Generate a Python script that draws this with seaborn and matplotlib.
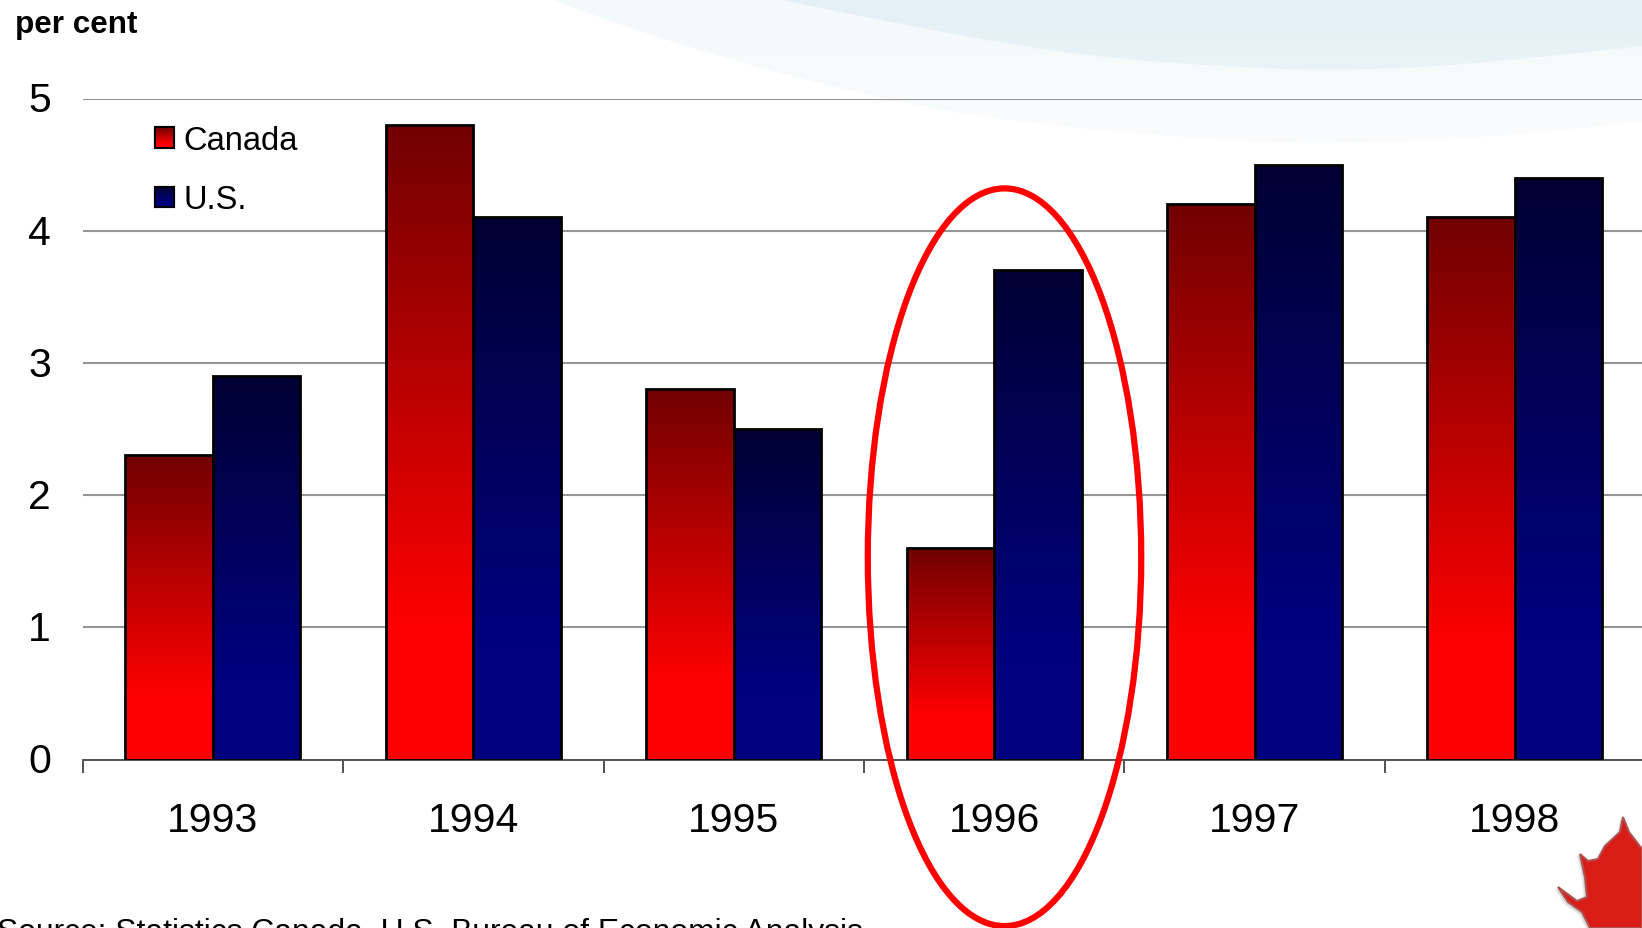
import matplotlib
matplotlib.use('Agg')
import matplotlib.pyplot as plt
import numpy as np
import pandas as pd
import seaborn as sns
from matplotlib.colors import LinearSegmentedColormap
from matplotlib.patches import Ellipse, Patch, PathPatch, Polygon, Rectangle
from matplotlib.path import Path
from matplotlib.transforms import ScaledTranslation

years = ['1993', '1994', '1995', '1996', '1997', '1998']
canada = [2.3, 4.8, 2.8, 1.6, 4.2, 4.1]
us = [2.9, 4.1, 2.5, 3.7, 4.5, 4.4]

W, H = 1642, 929

sns.set_theme(style='white')
plt.rcParams['font.family'] = ['Liberation Sans', 'DejaVu Sans']

df = pd.DataFrame({'year': years, 'Canada': canada, 'U.S.': us})
df = df.melt(id_vars='year', var_name='country', value_name='growth')

red_map = LinearSegmentedColormap.from_list('r', [(0, '#700000'), (0.8, '#ff0000'), (1, '#ff0000')])
blue_map = LinearSegmentedColormap.from_list('b', [(0, '#000033'), (0.8, '#000080'), (1, '#000080')])
ramp = np.linspace(0, 1, 256).reshape(-1, 1)

fig = plt.figure(figsize=(W / 100, H / 100), dpi=100, facecolor='white')


def smooth_path(pts):
    # quadratic curves through the midpoints, closed along the top of the slide
    verts = [pts[0]]
    codes = [Path.MOVETO]
    for i in range(1, len(pts) - 1):
        mid = ((pts[i][0] + pts[i + 1][0]) / 2, (pts[i][1] + pts[i + 1][1]) / 2)
        verts += [pts[i], mid if i < len(pts) - 2 else pts[i + 1]]
        codes += [Path.CURVE3, Path.CURVE3]
    verts += [(W, 0), (pts[0][0], 0), pts[0]]
    codes += [Path.LINETO, Path.LINETO, Path.CLOSEPOLY]
    return Path(verts, codes)


# slide background, in pixels
bg = fig.add_axes([0, 0, 1, 1], zorder=0)
bg.set_xlim(0, W)
bg.set_ylim(H, 0)
bg.axis('off')

outer = [(551, 0), (646, 37), (864, 97), (1010, 123), (1228, 142), (1338, 145), (1520, 137), (1642, 122)]
inner = [(777, 0), (937, 33), (1083, 57), (1228, 68), (1338, 72), (1483, 65), (1642, 47)]
outer_map = LinearSegmentedColormap.from_list('o', ['#f4f9fb', '#fbfcfd'])
inner_map = LinearSegmentedColormap.from_list('i', ['#e3f0f5', '#ebf3f8'])
for pts, cm in [(outer, outer_map), (inner, inner_map)]:
    patch = PathPatch(smooth_path(pts), fc='none', ec='none')
    bg.add_patch(patch)
    im = bg.imshow(ramp, extent=(0, W, pts[-3][1] + 10, 0), cmap=cm, aspect='auto')
    im.set_clip_path(patch)
bg.set_xlim(0, W)
bg.set_ylim(H, 0)

leaf = [(1623, 818), (1629, 833), (1642, 850), (1642, 929), (1590, 929), (1582, 913), (1568, 903),
        (1558, 888), (1577, 902), (1587, 898), (1585, 878), (1580, 855), (1588, 862), (1598, 860),
        (1605, 847), (1620, 833)]
shadow = [(x - 2, y + 2) for x, y in leaf]
bg.add_patch(Polygon(shadow, fc='#999999', ec='#cccccc', lw=2, alpha=0.35))
bg.add_patch(Polygon(leaf, fc='#d91c16', ec='#b05050', lw=1.5))

# one category is 260.4 px wide, one unit of y is 132 px
ax = fig.add_axes([82.7 / W, (H - 760.5) / H, 1562.4 / W, 661 / H], zorder=1)
ax.patch.set_alpha(0)

sns.barplot(data=df, x='year', y='growth', hue='country', order=years, hue_order=['Canada', 'U.S.'],
            width=0.672, gap=0, saturation=1, palette=['#ff0000', '#000080'],
            edgecolor='black', linewidth=2, legend=False, ax=ax)


def paint(patch, cm, z):
    # vertical gradient clipped to a patch given in data coordinates
    b = patch.get_extents().transformed(ax.transData.inverted())
    im = ax.imshow(ramp, extent=(b.x0, b.x1, b.y0, b.y1), cmap=cm, aspect='auto', zorder=z, origin='upper')
    im.set_clip_path(patch)
    patch.set_facecolor('none')
    patch.set_zorder(z + 1)


ax.set_xlim(-0.5, 5.5)
ax.set_ylim(0, 5)

for container, cm in zip(ax.containers, [red_map, blue_map]):
    for bar in container:
        paint(bar, cm, 3)

ax.set_xlim(-0.5, 5.5)
ax.set_ylim(0, 5)
ax.set_axisbelow(True)
ax.yaxis.grid(True, color='#969696', lw=1.5)
ax.xaxis.grid(False)
for side in ['top', 'left', 'right']:
    ax.spines[side].set_visible(False)
ax.spines['bottom'].set_color('#555555')
ax.spines['bottom'].set_linewidth(1.4)
ax.spines['bottom'].set_zorder(2)

ax.set_xlabel('')
ax.set_ylabel('')
ax.set_yticks(range(6))
ax.tick_params(axis='y', length=0, pad=23, labelsize=29.5, labelcolor='black')
for label in ax.get_yticklabels():
    label.set_transform(label.get_transform() + ScaledTranslation(0, 1.5 / 72, fig.dpi_scale_trans))
ax.set_xticks(range(6), years)
ax.tick_params(axis='x', which='major', length=0, pad=30, labelsize=29.5, labelcolor='black')
ax.set_xticks(np.arange(-0.5, 5.5, 1), minor=True)
ax.tick_params(axis='x', which='minor', bottom=True, length=9.4, width=1.2, color='#333333')

leg = ax.legend(handles=[Patch(fc='#ff0000', ec='black', lw=1.5, label='Canada'),
                         Patch(fc='#000080', ec='black', lw=1.5, label='U.S.')],
                loc='upper left', bbox_to_anchor=(0.0465, 0.96), frameon=False, fontsize=23.5,
                labelcolor='black', handlelength=0.58, handleheight=0.58, handletextpad=0.28,
                labelspacing=0.87, borderpad=0, borderaxespad=0)
fig.canvas.draw()
for swatch, cm in zip(leg.get_patches(), [red_map, blue_map]):
    b = swatch.get_window_extent().transformed(ax.transData.inverted())
    im = ax.imshow(ramp, extent=(b.x0, b.x1, b.y0, b.y1), cmap=cm, aspect='auto', zorder=6)
    im.set_clip_on(False)
    ax.add_patch(Rectangle((b.x0, b.y0), b.width, b.height, fc='none', ec='black', lw=1.5, zorder=7, clip_on=False))
ax.set_xlim(-0.5, 5.5)
ax.set_ylim(0, 5)

# red ring round 1996
ax.add_patch(Ellipse((3.04, 1.53), 1.05, 5.58, fc='none', ec='#ff0000', lw=4.5, zorder=8, clip_on=False))

fig.text(15 / W, 1 - 33 / H, 'per cent', fontsize=22.6, fontweight='bold', color='black', va='baseline')
fig.text(-3 / W, 1 - 941 / H, 'Source: Statistics Canada, U.S. Bureau of Economic Analysis',
         fontsize=22.85, color='black', va='baseline')

fig.savefig('out.png', dpi=100)
